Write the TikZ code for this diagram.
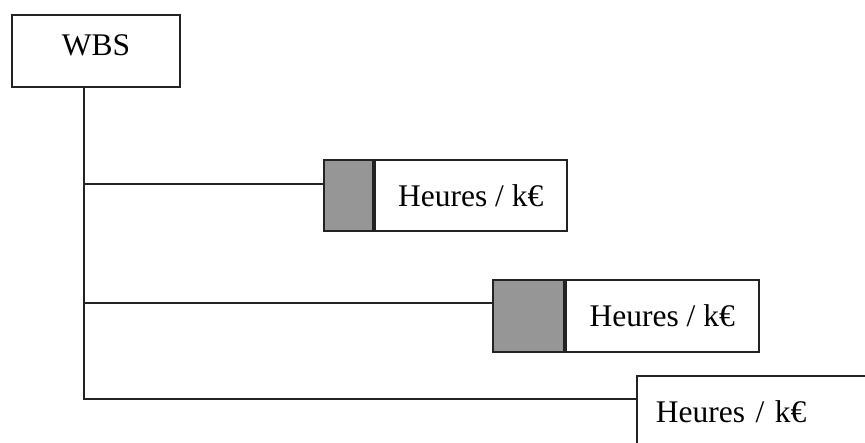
\documentclass[tikz,border=0pt]{standalone}
\usepackage{fontspec}
\setmainfont{Liberation Serif}
\usetikzlibrary{calc}
\definecolor{boxgray}{RGB}{150,150,150}
\definecolor{linecol}{RGB}{35,35,35}
\begin{document}
\begin{tikzpicture}[x=1pt,y=-1pt,
  box/.style={draw=linecol, line width=1.8pt, inner sep=0pt, anchor=north west,
    font=\fontsize{31.5}{38}\selectfont},
  conn/.style={draw=linecol, line width=1.8pt}]
\useasboundingbox (0,0) rectangle (865,443);
\clip (0,0) rectangle (865,443);
\fill[white] (0,0) rectangle (865,443);
% WBS box
\node[box, minimum width=168, minimum height=72, text depth=12] (wbs) at (11,14) {WBS};
% branch 1
\node[box, fill=boxgray, minimum width=49, minimum height=71] (g1) at (323,159) {};
\node[box, minimum width=192, minimum height=71] (h1) at (g1.north east) {Heures / k€};
% branch 2
\node[box, fill=boxgray, minimum width=71, minimum height=72] (g2) at (492,279) {};
\node[box, minimum width=193, minimum height=72] (h2) at (g2.north east) {Heures / k€};
% branch 3
\node[box, minimum width=240, minimum height=72, text width=202, align=left] (h3) at (636,375) {Heures / k€};
% connectors
\coordinate (top) at ($(wbs.south west)!0.43!(wbs.south east)$);
\coordinate (e1) at ($(g1.north west)!0.34!(g1.south west)$);
\coordinate (e2) at ($(g2.north west)!0.33!(g2.south west)$);
\coordinate (e3) at ($(h3.north west)!0.33!(h3.south west)$);
\draw[conn] (top) |- (e3);
\draw[conn] (top |- e1) -- (e1);
\draw[conn] (top |- e2) -- (e2);
\end{tikzpicture}
\end{document}
